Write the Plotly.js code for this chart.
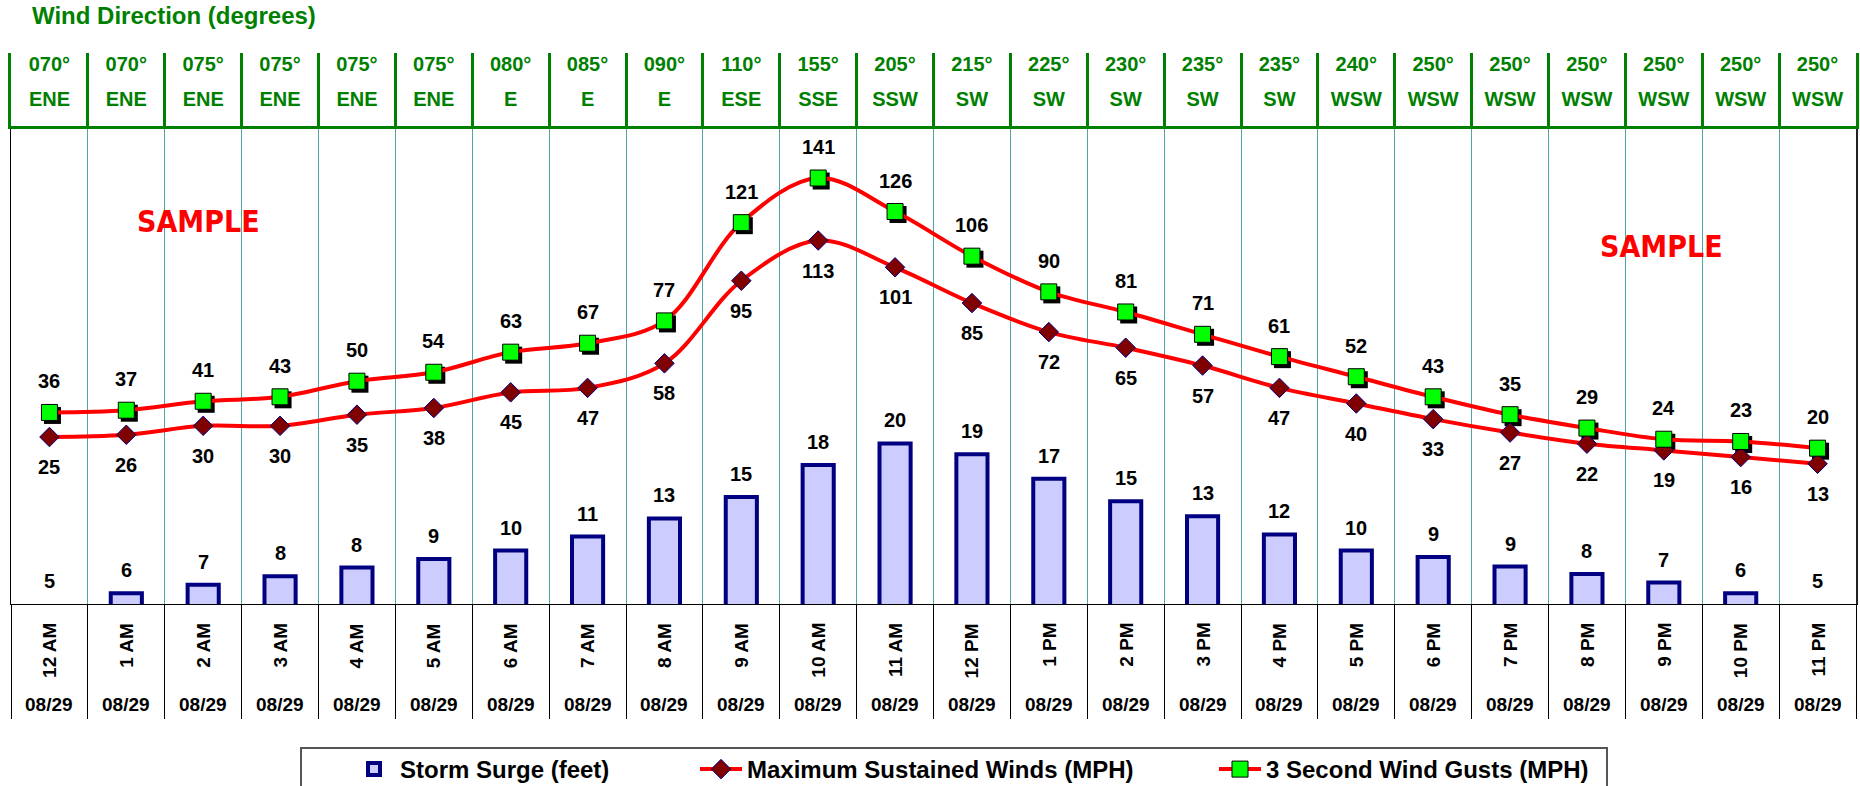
<!DOCTYPE html>
<html>
<head>
<meta charset="utf-8">
<script src="https://cdn.plot.ly/plotly-3.0.1.min.js"></script>
<style>
  html, body { margin: 0; padding: 0; background: #ffffff; }
  #chart { width: 1860px; height: 786px; }
</style>
</head>
<body>
<div id="chart"></div>
<script>
// ---------------- DATA ----------------
const hours = ['12 AM','1 AM','2 AM','3 AM','4 AM','5 AM','6 AM','7 AM','8 AM','9 AM','10 AM','11 AM',
               '12 PM','1 PM','2 PM','3 PM','4 PM','5 PM','6 PM','7 PM','8 PM','9 PM','10 PM','11 PM'];
const dates = ['08/29','08/29','08/29','08/29','08/29','08/29','08/29','08/29','08/29','08/29','08/29','08/29',
               '08/29','08/29','08/29','08/29','08/29','08/29','08/29','08/29','08/29','08/29','08/29','08/29'];
const windDegrees = ['070°','070°','075°','075°','075°','075°','080°','085°','090°','110°','155°','205°',
                     '215°','225°','230°','235°','235°','240°','250°','250°','250°','250°','250°','250°'];
const windDirections = ['ENE','ENE','ENE','ENE','ENE','ENE','E','E','E','ESE','SSE','SSW',
                        'SW','SW','SW','SW','SW','WSW','WSW','WSW','WSW','WSW','WSW','WSW'];
const stormSurge = [5, 6, 6.8, 7.6, 8.4, 9.2, 10, 11.3, 13, 15, 18, 20,
                    19, 16.7, 14.6, 13.2, 11.5, 10, 9.4, 8.5, 7.8, 7, 6, 5];
const sustainedWinds = [25, 26, 30, 30, 35, 38, 45, 47, 58, 95, 113, 101,
                        85, 72, 65, 57, 47, 40, 33, 27, 22, 19, 16, 13];
const windGusts = [36, 37, 41, 43, 50, 54, 63, 67, 77, 121, 141, 126,
                   106, 90, 81, 71, 61, 52, 43, 35, 29, 24, 23, 20];

// ---------------- GEOMETRY / STYLE ----------------
const W = 1860, H = 786;
const PL = 11, PR = 1856, PT = 53, HDR = 126, PB = 604;
const plotW = PR - PL, plotH = PB - PT;
const mainTop = (PB - HDR) / plotH;
const py = v => (PB - v) / plotH;          // pixel y -> paper y
const px = v => (v - PL) / plotW;          // pixel x -> paper x

const FONT = 'Liberation Sans, Arial, Helvetica, sans-serif';
const GREEN = '#008000';
const catPx = plotW / hours.length;

const surgeRange = [5, 49.67];
const windRange = [-49.8, 164.3];
const shadowDx = 3 / catPx;
const shadowDy = 3 * (windRange[1] - windRange[0]) / (PB - HDR);

// bars passed largest-first (positions still come from the category axis),
// so the legend swatch takes the outlined style of a visible bar
const barOrder = hours.map((_, i) => i).sort((a, b) => stormSurge[b] - stormSurge[a]);

// ---------------- TRACES ----------------
const traces = [
  { // shadow of gust markers (base subplot, shifted axes)
    type: 'scatter', mode: 'markers', x: hours, y: windGusts,
    xaxis: 'x', yaxis: 'y',
    marker: { symbol: 'square', size: 17, color: '#000000' },
    showlegend: false, hoverinfo: 'skip'
  },
  {
    type: 'bar', name: 'Storm Surge (feet)',
    x: barOrder.map(i => hours[i]), y: barOrder.map(i => stormSurge[i]),
    xaxis: 'x2', yaxis: 'y2', width: 0.405,
    marker: { color: '#ccccff', line: { color: '#000080',
      width: barOrder.map(i => stormSurge[i] > surgeRange[0] ? 4 : 0) } },
    legendwidth: 290
  },
  {
    type: 'scatter', mode: 'lines+markers', name: 'Maximum Sustained Winds (MPH)',
    x: hours, y: sustainedWinds, xaxis: 'x2', yaxis: 'y3',
    line: { color: '#ff0000', width: 4, shape: 'spline', smoothing: 1 },
    marker: { symbol: 'diamond', size: 15, color: '#800000', line: { color: '#000080', width: 1 } },
    legendwidth: 462
  },
  {
    type: 'scatter', mode: 'lines+markers', name: '3 Second Wind Gusts (MPH)',
    x: hours, y: windGusts, xaxis: 'x2', yaxis: 'y3',
    line: { color: '#ff0000', width: 4, shape: 'spline', smoothing: 1 },
    marker: { symbol: 'square', size: 16, color: '#00ff00', line: { color: '#000000', width: 1 } }
  },
  { // header: degrees
    type: 'scatter', mode: 'text', x: hours, y: hours.map(() => 0.822), text: windDegrees,
    xaxis: 'x3', yaxis: 'y4', textposition: 'middle center',
    textfont: { family: FONT, size: 20, color: GREEN, weight: 'bold' },
    showlegend: false, hoverinfo: 'skip'
  },
  { // header: compass direction
    type: 'scatter', mode: 'text', x: hours, y: hours.map(() => 0.342), text: windDirections,
    xaxis: 'x3', yaxis: 'y4', textposition: 'middle center',
    textfont: { family: FONT, size: 20, color: GREEN, weight: 'bold' },
    showlegend: false, hoverinfo: 'skip'
  }
];

// ---------------- ANNOTATIONS ----------------
const labelFont = { family: FONT, size: 20, color: '#000000', weight: 'bold' };
const annotations = [];
stormSurge.forEach((v, i) => annotations.push({
  xref: 'x2', yref: 'y2', x: hours[i], y: v, yshift: 23, text: String(Math.round(v)),
  showarrow: false, font: labelFont, xanchor: 'center', yanchor: 'middle'
}));
windGusts.forEach((v, i) => annotations.push({
  xref: 'x2', yref: 'y3', x: hours[i], y: v, yshift: 31, text: String(v),
  showarrow: false, font: labelFont, xanchor: 'center', yanchor: 'middle'
}));
sustainedWinds.forEach((v, i) => annotations.push({
  xref: 'x2', yref: 'y3', x: hours[i], y: v, yshift: -30, text: String(v),
  showarrow: false, font: labelFont, xanchor: 'center', yanchor: 'middle'
}));
hours.forEach((h, i) => annotations.push({
  xref: 'x2', yref: 'paper', x: h, y: py(621), text: h, textangle: -90,
  showarrow: false, font: { family: FONT, size: 19, color: '#000000', weight: 'bold' },
  xanchor: 'center', yanchor: 'top'
}));
dates.forEach((d, i) => annotations.push({
  xref: 'x2', yref: 'paper', x: hours[i], y: py(704.5), text: d,
  showarrow: false, font: { family: FONT, size: 19, color: '#000000', weight: 'bold' },
  xanchor: 'center', yanchor: 'middle'
}));
const sampleFont = { family: 'Liberation Sans Narrow, DejaVu Sans Condensed, Arial Narrow, Liberation Sans, sans-serif', size: 30, color: '#ff0000', weight: 'bold' };
annotations.push({ xref: 'paper', yref: 'paper', x: px(198), y: py(221), text: 'SAMPLE', showarrow: false, font: sampleFont, xanchor: 'center', yanchor: 'middle' });
annotations.push({ xref: 'paper', yref: 'paper', x: px(1661), y: py(246), text: 'SAMPLE', showarrow: false, font: sampleFont, xanchor: 'center', yanchor: 'middle' });

// ---------------- LAYOUT ----------------
const hidden = { showgrid: false, zeroline: false, showticklabels: false, ticks: '', fixedrange: true };
const layout = {
  width: W, height: H,
  margin: { l: PL, r: W - PR, t: PT, b: H - PB, autoexpand: false },
  paper_bgcolor: '#ffffff', plot_bgcolor: 'rgba(0,0,0,0)',
  font: { family: FONT, color: '#000000' },
  title: {
    text: 'Wind Direction (degrees)',
    font: { family: FONT, size: 24, color: GREEN, weight: 'bold' },
    xref: 'container', yref: 'container', x: 32 / W, xanchor: 'left', y: 1 - 16 / H, yanchor: 'middle'
  },
  showlegend: true,
  legend: {
    orientation: 'h', xref: 'paper', yref: 'paper', x: px(348), xanchor: 'left', y: py(747), yanchor: 'top',
    font: { family: FONT, size: 24, color: '#000000', weight: 'bold' },
    bgcolor: 'rgba(0,0,0,0)', borderwidth: 0, traceorder: 'normal', itemwidth: 42
  },
  shapes: [
    { type: 'rect', xref: 'paper', yref: 'paper', x0: px(301), x1: px(1607), y0: py(748), y1: py(792),
      line: { color: '#555555', width: 2 }, fillcolor: 'rgba(0,0,0,0)', layer: 'below' }
  ],
  xaxis: Object.assign({}, hidden, {
    type: 'category', categoryorder: 'array', categoryarray: hours,
    range: [-0.5 - shadowDx, hours.length - 0.5 - shadowDx], anchor: 'y', visible: false
  }),
  yaxis: Object.assign({}, hidden, {
    domain: [0, mainTop], range: [windRange[0] + shadowDy, windRange[1] + shadowDy], anchor: 'x', visible: false
  }),
  xaxis2: Object.assign({}, hidden, {
    overlaying: 'x', type: 'category', categoryorder: 'array', categoryarray: hours,
    range: [-0.5, hours.length - 0.5], anchor: 'y2', side: 'bottom',
    tickson: 'boundaries', showgrid: true, gridcolor: '#4da6a6', gridwidth: 1,
    ticks: 'outside', ticklen: 114, tickcolor: '#000000', tickwidth: 1,
    showline: true, linecolor: '#000000', linewidth: 1
  }),
  yaxis2: Object.assign({}, hidden, {
    overlaying: 'y', range: surgeRange, anchor: 'x2', side: 'left',
    showline: true, linecolor: '#000000', linewidth: 1
  }),
  yaxis3: Object.assign({}, hidden, {
    overlaying: 'y', range: windRange, anchor: 'x2', side: 'right',
    showline: true, linecolor: '#222222', linewidth: 2
  }),
  xaxis3: Object.assign({}, hidden, {
    type: 'category', categoryorder: 'array', categoryarray: hours, domain: [0, 1],
    range: [-0.5, hours.length - 0.5], anchor: 'y4', side: 'bottom',
    tickson: 'boundaries', showgrid: true, gridcolor: GREEN, gridwidth: 3,
    showline: true, linecolor: GREEN, linewidth: 3
  }),
  yaxis4: Object.assign({}, hidden, {
    domain: [mainTop, 1], range: [0, 1], anchor: 'x3',
    showline: true, mirror: true, linecolor: GREEN, linewidth: 3
  }),
  annotations: annotations
};

Plotly.newPlot('chart', traces, layout, { displayModeBar: false, staticPlot: true });
</script>
</body>
</html>
